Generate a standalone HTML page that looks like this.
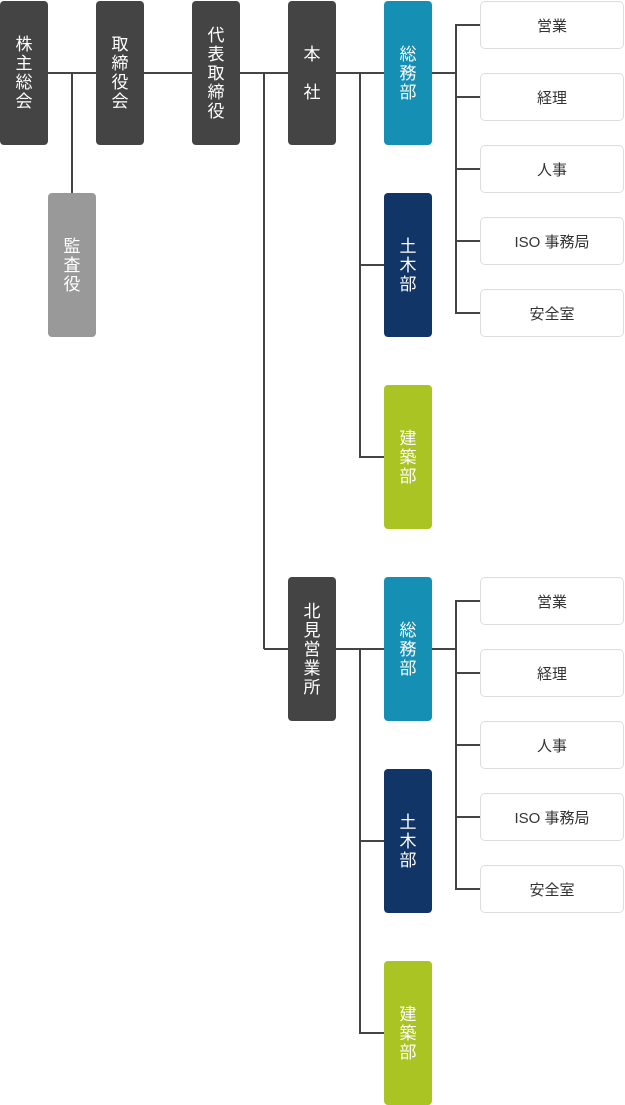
<!DOCTYPE html>
<html><head><meta charset="utf-8"><style>
body{margin:0;width:625px;height:1105px;background:#fff;position:relative;overflow:hidden;font-family:"Liberation Sans","Noto Sans CJK JP",sans-serif}
.b{position:absolute;width:48px;height:144px;border-radius:4px;color:#fff;font-size:17px;display:flex;flex-direction:column;align-items:center;justify-content:center;line-height:19px;font-weight:400}
.d{background:#444}.g{background:#999}.t{background:#168fb4}.n{background:#123567}.l{background:#a9c423}
.r{position:absolute;left:480px;width:142px;height:46px;border:1px solid #ddd;border-radius:5px;font-size:15px;color:#333;display:flex;align-items:center;justify-content:center}
.h,.v{position:absolute;background:#444}
.h{height:2px}.v{width:2px}
</style></head><body>
<div class="h" style="left:48px;top:72px;width:336px"></div>
<div class="v" style="left:71px;top:72px;height:121px"></div>
<div class="v" style="left:263px;top:72px;height:577px"></div>
<div class="h" style="left:264px;top:648px;width:24px"></div>
<div class="h" style="left:336px;top:72px;width:120px"></div>
<div class="v" style="left:359px;top:72px;height:386px"></div>
<div class="h" style="left:360px;top:264px;width:24px"></div>
<div class="h" style="left:360px;top:456px;width:24px"></div>
<div class="h" style="left:432px;top:72px;width:24px"></div>
<div class="v" style="left:455px;top:24px;height:290px"></div>
<div class="h" style="left:456px;top:24px;width:24px"></div>
<div class="h" style="left:456px;top:96px;width:24px"></div>
<div class="h" style="left:456px;top:168px;width:24px"></div>
<div class="h" style="left:456px;top:240px;width:24px"></div>
<div class="h" style="left:456px;top:312px;width:24px"></div>
<div class="h" style="left:336px;top:648px;width:120px"></div>
<div class="v" style="left:359px;top:648px;height:386px"></div>
<div class="h" style="left:360px;top:840px;width:24px"></div>
<div class="h" style="left:360px;top:1032px;width:24px"></div>
<div class="v" style="left:455px;top:600px;height:290px"></div>
<div class="h" style="left:456px;top:600px;width:24px"></div>
<div class="h" style="left:456px;top:672px;width:24px"></div>
<div class="h" style="left:456px;top:744px;width:24px"></div>
<div class="h" style="left:456px;top:816px;width:24px"></div>
<div class="h" style="left:456px;top:888px;width:24px"></div>
<div class="b d" style="left:0;top:1px"><span>株</span><span>主</span><span>総</span><span>会</span></div>
<div class="b g" style="left:48px;top:193px"><span>監</span><span>査</span><span>役</span></div>
<div class="b d" style="left:96px;top:1px"><span>取</span><span>締</span><span>役</span><span>会</span></div>
<div class="b d" style="left:192px;top:1px"><span>代</span><span>表</span><span>取</span><span>締</span><span>役</span></div>
<div class="b d" style="left:288px;top:1px"><span>本</span><span>&nbsp;</span><span>社</span></div>
<div class="b t" style="left:384px;top:1px"><span>総</span><span>務</span><span>部</span></div>
<div class="b n" style="left:384px;top:193px"><span>土</span><span>木</span><span>部</span></div>
<div class="b l" style="left:384px;top:385px"><span>建</span><span>築</span><span>部</span></div>
<div class="b d" style="left:288px;top:577px"><span>北</span><span>見</span><span>営</span><span>業</span><span>所</span></div>
<div class="b t" style="left:384px;top:577px"><span>総</span><span>務</span><span>部</span></div>
<div class="b n" style="left:384px;top:769px"><span>土</span><span>木</span><span>部</span></div>
<div class="b l" style="left:384px;top:961px"><span>建</span><span>築</span><span>部</span></div>
<div class="r" style="top:1px">営業</div>
<div class="r" style="top:73px">経理</div>
<div class="r" style="top:145px">人事</div>
<div class="r" style="top:217px">ISO 事務局</div>
<div class="r" style="top:289px">安全室</div>
<div class="r" style="top:577px">営業</div>
<div class="r" style="top:649px">経理</div>
<div class="r" style="top:721px">人事</div>
<div class="r" style="top:793px">ISO 事務局</div>
<div class="r" style="top:865px">安全室</div>
</body></html>
